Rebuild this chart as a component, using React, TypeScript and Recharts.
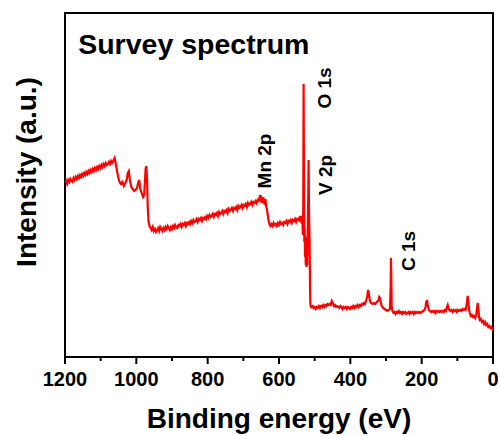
import React from 'react';
import { LineChart, Line, XAxis, YAxis, ReferenceArea, ReferenceDot } from 'recharts';

// XPS survey scan: [binding energy (eV), intensity (a.u.)]
const spectrum: [number, number][] = [
  [1200, 174], [1197, 176], [1194, 173], [1191, 177], [1188, 175], [1185, 178], [1182, 176],
  [1179, 175], [1176, 179], [1173, 177], [1170, 180], [1167, 178], [1164, 181], [1161, 179],
  [1158, 182], [1155, 180], [1152, 183], [1149, 181], [1146, 184], [1143, 182], [1140, 185],
  [1137, 183], [1134, 186], [1131, 184], [1128, 187], [1125, 185], [1122, 188], [1119, 186],
  [1116, 189], [1113, 187], [1110, 190], [1107, 188], [1104, 191], [1101, 189], [1098, 192],
  [1095, 190], [1092, 193], [1089, 191], [1086, 194], [1083, 192], [1080, 193], [1077, 195],
  [1074, 193], [1071, 196], [1068, 194], [1065, 196], [1061, 199], [1058, 194], [1055, 188],
  [1051, 180], [1047, 175], [1043, 173], [1039, 175], [1035, 171], [1031, 174], [1027, 177],
  [1024, 184], [1021, 186], [1018, 177], [1014, 170], [1010, 168], [1006, 166], [1002, 167],
  [998, 169], [995, 174], [992, 177], [989, 168], [985, 164], [981, 160], [978, 162],
  [976, 175], [974, 188], [972, 191], [970, 178], [968, 150], [966, 136], [963, 131],
  [960, 129], [957, 127], [954, 130], [951, 126], [948, 128], [945, 125], [942, 127],
  [939, 129], [936, 126], [933, 130], [930, 128], [927, 126], [924, 129], [921, 127],
  [918, 130], [915, 128], [912, 131], [909, 129], [906, 127], [903, 130], [900, 128],
  [897, 131], [894, 129], [891, 132], [888, 130], [885, 129], [882, 132], [879, 131],
  [876, 133], [873, 130], [870, 133], [867, 132], [864, 134], [861, 131], [858, 134],
  [855, 133], [852, 135], [849, 133], [846, 136], [843, 134], [840, 137], [837, 135],
  [834, 136], [831, 138], [828, 135], [825, 138], [822, 137], [819, 139], [816, 136],
  [813, 139], [810, 138], [807, 140], [804, 138], [801, 141], [798, 139], [795, 142],
  [792, 140], [789, 141], [786, 143], [783, 140], [780, 143], [777, 142], [774, 144],
  [771, 141], [768, 145], [765, 143], [762, 144], [759, 146], [756, 143], [753, 146],
  [750, 145], [747, 147], [744, 144], [741, 148], [738, 146], [735, 147], [732, 149],
  [729, 146], [726, 149], [723, 148], [720, 150], [717, 147], [714, 151], [711, 149],
  [708, 150], [705, 152], [702, 149], [699, 152], [696, 151], [693, 153], [690, 150],
  [687, 154], [684, 152], [681, 153], [678, 155], [675, 152], [672, 155], [669, 154],
  [666, 156], [663, 154], [660, 157], [657, 156], [655, 159], [653, 157], [652, 162],
  [650, 156], [648, 154], [646, 160], [644, 154], [642, 156], [640, 152], [638, 158],
  [636, 151], [633, 146], [630, 138], [627, 133], [624, 131], [621, 133], [618, 131],
  [615, 134], [612, 132], [609, 133], [606, 131], [603, 134], [600, 132], [597, 135],
  [594, 133], [591, 134], [588, 132], [585, 135], [582, 134], [579, 136], [576, 133],
  [573, 136], [570, 135], [567, 137], [564, 134], [561, 137], [558, 136], [555, 138],
  [552, 135], [549, 138], [546, 137], [543, 139], [541, 137], [538, 141], [536, 136],
  [534, 132], [533, 122], [532, 150], [531, 273], [530, 180], [529, 115], [528, 128],
  [527, 100], [526, 120], [525, 92], [524, 108], [523, 90], [522, 104], [521, 92],
  [520, 112], [518, 160], [517, 197], [516, 150], [514, 110], [513, 70], [512, 52],
  [510, 50], [506, 51], [503, 49], [500, 50], [497, 48], [494, 50], [491, 49], [488, 51],
  [485, 49], [482, 51], [479, 50], [476, 52], [473, 50], [470, 52], [467, 51], [464, 53],
  [461, 52], [458, 53], [455, 52], [452, 56], [449, 54], [446, 51], [443, 52], [440, 50],
  [437, 51], [434, 50], [431, 49], [428, 51], [425, 50], [422, 48], [419, 50], [416, 49],
  [413, 50], [410, 48], [407, 50], [404, 49], [401, 48], [398, 50], [395, 49], [392, 51],
  [389, 49], [386, 51], [383, 50], [380, 52], [377, 50], [374, 52], [371, 51], [368, 53],
  [365, 52], [362, 54], [359, 53], [356, 56], [353, 60], [350, 67], [348, 63], [345, 56],
  [342, 54], [338, 53], [334, 54], [330, 53], [326, 55], [322, 56], [319, 60], [317, 59],
  [315, 55], [312, 51], [308, 49], [304, 48], [300, 47], [296, 46], [292, 47], [289, 48],
  [287, 70], [286, 99], [285, 75], [284, 50], [282, 46], [279, 44], [276, 45], [273, 43],
  [270, 45], [267, 44], [264, 46], [261, 44], [258, 45], [255, 43], [252, 45], [249, 44],
  [246, 45], [243, 43], [240, 44], [237, 45], [234, 43], [231, 45], [228, 44], [225, 45],
  [222, 43], [219, 45], [216, 44], [213, 45], [210, 44], [207, 45], [204, 44], [200, 45],
  [196, 46], [192, 47], [189, 50], [187, 55], [185, 57], [183, 52], [180, 47], [177, 46],
  [174, 45], [171, 46], [168, 45], [165, 46], [162, 44], [159, 46], [156, 45], [153, 46],
  [150, 45], [147, 46], [144, 45], [141, 46], [138, 45], [135, 47], [132, 46], [129, 50],
  [127, 52], [125, 49], [122, 47], [119, 46], [116, 47], [113, 45], [110, 47], [107, 46],
  [104, 47], [101, 45], [98, 47], [95, 46], [92, 47], [89, 46], [86, 48], [83, 47],
  [80, 48], [77, 47], [75, 50], [73, 55], [71, 61], [69, 55], [67, 47], [65, 44], [62, 41],
  [59, 42], [56, 40], [53, 41], [50, 39], [47, 42], [45, 48], [43, 54], [41, 48], [39, 40],
  [37, 37], [34, 38], [31, 35], [28, 36], [25, 33], [22, 35], [19, 32], [16, 33], [13, 30],
  [10, 31], [7, 29], [4, 30], [1, 28], [0, 29],
];

const energyTicks = [0, 100, 200, 300, 400, 500, 600, 700, 800, 900, 1000, 1100, 1200];
const labelledTicks = [0, 200, 400, 600, 800, 1000, 1200];

// core-level annotations, anchored in data space (energy, intensity)
const peakLabels = [
  { text: 'O 1s', ev: 454, level: 269 },
  { text: 'V 2p', ev: 451, level: 182 },
  { text: 'Mn 2p', ev: 622, level: 196 },
  { text: 'C 1s', ev: 219, level: 106 },
];

const titleText = 'Survey spectrum';
const xTitle = 'Binding energy (eV)';
const yTitle = 'Intensity (a.u.)';

const FONT = '"Liberation Sans", Arial, Helvetica, sans-serif';

const data = spectrum.map(([ev, counts]) => ({ ev, counts }));

const AxisTick = (props: any) => {
  const { x, y, payload } = props;
  const v = payload.value as number;
  const major = labelledTicks.includes(v);
  return (
    <g>
      <line x1={x} x2={x} y1={y} y2={y + (major ? 7 : 4)} stroke="#000" strokeWidth={2} />
      {major && (
        <text x={x} y={y + 29} textAnchor="middle" fontFamily={FONT} fontWeight="bold" fontSize={20} fill="#000">
          {v}
        </text>
      )}
    </g>
  );
};

const XTitle = (props: any) => {
  const vb = props.viewBox || { x: 65, y: 357, width: 428, height: 79 };
  return (
    <text x={vb.x + vb.width / 2} y={vb.y + 71} textAnchor="middle" fontFamily={FONT} fontWeight="bold" fontSize={28} fill="#000">
      {xTitle}
    </text>
  );
};

const YTitle = (props: any) => {
  const vb = props.viewBox || { x: 0, y: 13, width: 65, height: 344 };
  const cx = vb.x + 36;
  const cy = vb.y + vb.height / 2 - 13;
  return (
    <text x={cx} y={cy} transform={`rotate(-90, ${cx}, ${cy})`} textAnchor="middle" fontFamily={FONT} fontWeight="bold" fontSize={28} fill="#000">
      {yTitle}
    </text>
  );
};

const PeakText = (props: any) => {
  const vb = props.viewBox || { x: 0, y: 0 };
  const { x, y } = vb;
  return (
    <text x={x} y={y} transform={`rotate(-90, ${x}, ${y})`} textAnchor="middle" fontFamily={FONT} fontWeight="bold" fontSize={19} fill="#000">
      {props.text}
    </text>
  );
};

const TitleText = (props: any) => {
  const vb = props.viewBox || { x: 0, y: 0 };
  return (
    <text x={vb.x} y={vb.y} textAnchor="start" fontFamily={FONT} fontWeight="bold" fontSize={28.5} fill="#000">
      {props.text}
    </text>
  );
};

export default function App() {
  return (
    <div style={{ position: 'absolute', left: 0, top: 0, width: 500, height: 436, background: '#fff' }}>
      <LineChart width={500} height={436} data={data} margin={{ top: 13, right: 7, bottom: 0, left: 0 }}>
        <XAxis
          type="number"
          dataKey="ev"
          domain={[0, 1200]}
          reversed
          ticks={energyTicks}
          interval={0}
          tick={<AxisTick />}
          tickLine={false}
          axisLine={false}
          tickSize={0}
          tickMargin={0}
          height={79}
          allowDataOverflow
          label={<XTitle />}
        />
        <YAxis
          type="number"
          domain={[0, 344]}
          width={65}
          tick={false}
          tickLine={false}
          axisLine={false}
          allowDataOverflow
          label={<YTitle />}
        />
        <ReferenceArea x1={1200} x2={0} y1={0} y2={344} fill="none" fillOpacity={0} stroke="#000" strokeWidth={2} />
        <Line
          type="linear"
          dataKey="counts"
          stroke="#ff0000"
          strokeWidth={2.2}
          dot={false}
          activeDot={false}
          isAnimationActive={false}
        />
        <ReferenceDot x={1163} y={303} r={0} fill="none" stroke="none" label={<TitleText text={titleText} />} />
        {peakLabels.map((p) => (
          <ReferenceDot
            key={p.text}
            x={p.ev}
            y={p.level}
            r={0}
            fill="none"
            stroke="none"
            label={<PeakText text={p.text} />}
          />
        ))}
      </LineChart>
    </div>
  );
}
